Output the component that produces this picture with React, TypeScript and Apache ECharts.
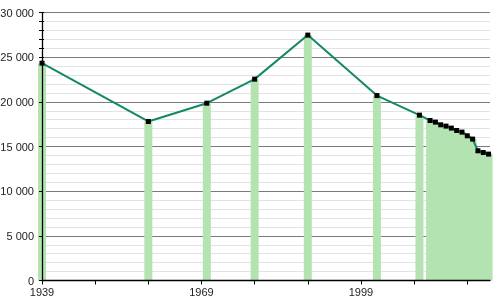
import React, { useEffect, useRef } from "react";
import * as echarts from "echarts";

const years = [1939, 1959, 1970, 1979, 1989, 2002, 2010, 2012, 2013, 2014, 2015, 2016, 2017, 2018, 2019, 2020, 2021, 2022, 2023];
const population = [24330, 17800, 19850, 22540, 27470, 20700, 18510, 17910, 17730, 17430, 17280, 17060, 16790, 16610, 16200, 15830, 14520, 14330, 14150];
const xTickYears = [1939, 1949, 1959, 1969, 1979, 1989, 1999, 2009, 2019];
const xLabelYears = [1939, 1969, 1999];

const fmt = (v: number) => String(v).replace(/\B(?=(\d{3})+(?!\d))/g, " ");

export default function App() {
  const ref = useRef<HTMLDivElement>(null);
  useEffect(() => {
    if (!ref.current) return;
    const chart = echarts.init(ref.current, null, { renderer: "svg" });
    const pts = years.map((y, i) => [y, population[i]]);
    const gridL = 42;
    const gridR = 10;
    const xMin = 1939;
    const xMax = 2023.27;
    chart.setOption({
      animation: false,
      grid: [
        { left: gridL, right: gridR, top: 12.5, bottom: 19.5, outerBoundsMode: "none", containLabel: false },
        { left: gridL, right: gridR, top: 12.5, height: 44.67, outerBoundsMode: "none", containLabel: false },
      ],
      xAxis: [
        {
          type: "value",
          gridIndex: 0,
          min: xMin,
          max: xMax,
          z: 5,
          splitLine: { show: false },
          axisLine: { show: true, lineStyle: { color: "#000", width: 1.3 } },
          axisTick: { show: true, length: 4, lineStyle: { color: "#000" }, customValues: xTickYears },
          axisLabel: {
            customValues: xLabelYears,
            formatter: (v: number) => String(v),
            color: "#222",
            fontSize: 11,
            fontFamily: "Liberation Sans, Arial, sans-serif",
            margin: 6,
          },
        },
        { type: "value", gridIndex: 1, min: xMin, max: xMax, show: false },
      ],
      yAxis: [
        {
          type: "value",
          gridIndex: 0,
          min: 0,
          max: 30000,
          interval: 5000,
          z: 0,
          axisLine: { show: false },
          axisTick: { show: false },
          axisLabel: { show: false },
          splitLine: { show: true, lineStyle: { color: "#7a7a7a", width: 1 } },
          minorTick: { show: false, splitNumber: 5 },
          minorSplitLine: { show: true, lineStyle: { color: "#e3e3e3", width: 1 } },
        },
        {
          type: "value",
          gridIndex: 0,
          position: "left",
          offset: 0,
          min: 0,
          max: 30000,
          interval: 5000,
          z: 5,
          axisLine: { show: true, lineStyle: { color: "#000", width: 1.3 } },
          axisTick: { show: true, length: 3, lineStyle: { color: "#000" } },
          splitLine: { show: false },
          axisLabel: {
            formatter: (v: number) => fmt(v),
            color: "#222",
            fontSize: 11,
            fontFamily: "Liberation Sans, Arial, sans-serif",
            margin: 8,
          },
        },
        {
          type: "value",
          gridIndex: 1,
          position: "left",
          min: 25000,
          max: 30000,
          interval: 1000,
          z: 5,
          axisLine: { show: false },
          axisTick: { show: true, length: 3, lineStyle: { color: "#000" } },
          axisLabel: { show: false },
          splitLine: { show: false },
        },
        {
          type: "value",
          gridIndex: 1,
          position: "left",
          min: 25000,
          max: 30000,
          interval: 1000,
          z: 5,
          axisLine: { show: false },
          axisTick: { show: true, inside: true, length: 2, lineStyle: { color: "#000" } },
          axisLabel: { show: false },
          splitLine: { show: false },
        },
      ],
      series: [
        {
          type: "bar",
          xAxisIndex: 0,
          yAxisIndex: 0,
          data: pts,
          barWidth: 8,
          clip: false,
          itemStyle: { color: "#b3e3b1" },
          z: 2,
        },
        {
          type: "line",
          xAxisIndex: 0,
          yAxisIndex: 0,
          data: pts,
          clip: false,
          symbol: "rect",
          symbolSize: 5,
          showAllSymbol: true,
          lineStyle: { color: "#138866", width: 2 },
          itemStyle: { color: "#000" },
          z: 3,
        },
        {
          type: "line",
          xAxisIndex: 1,
          yAxisIndex: 2,
          data: [],
        },
      ],
    });
    return () => chart.dispose();
  }, []);
  return <div ref={ref} style={{ position: "fixed", left: 0, top: 0, width: 500, height: 300 }} />;
}
